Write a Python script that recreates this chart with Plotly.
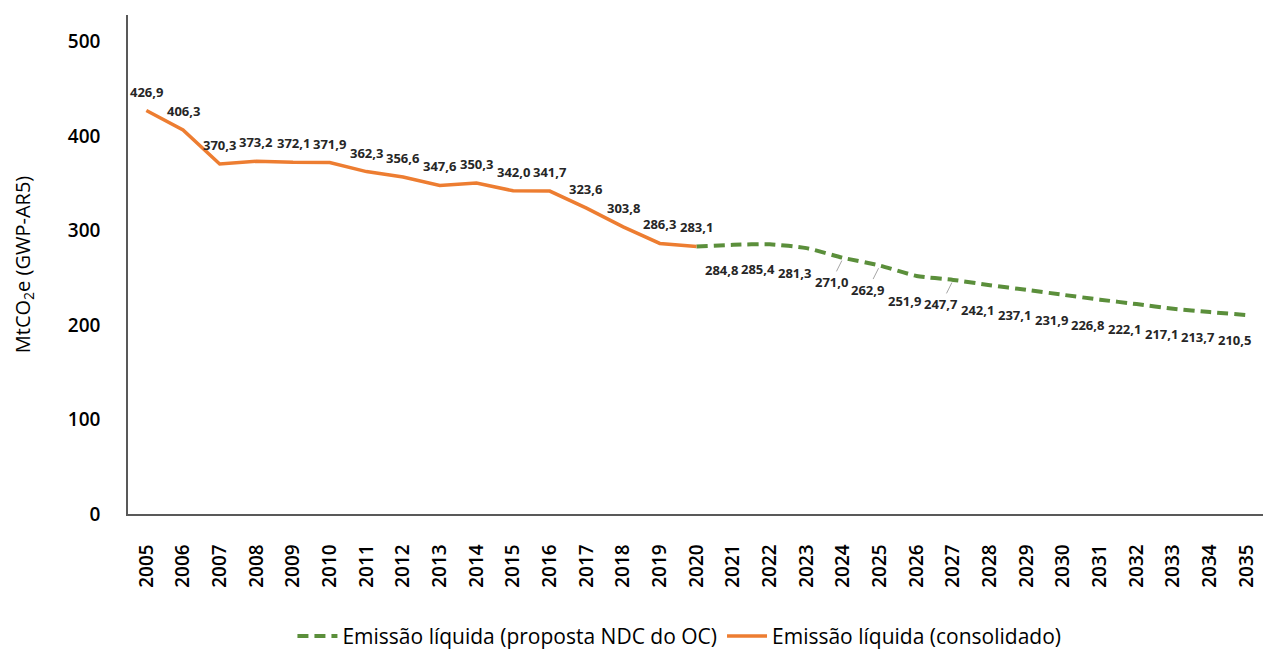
import plotly.graph_objects as go

anos_consolidado = [str(a) for a in range(2005, 2021)]
emissao_consolidado = [426.9, 406.3, 370.3, 373.2, 372.1, 371.9, 362.3, 356.6,
                       347.6, 350.3, 342.0, 341.7, 323.6, 303.8, 286.3, 283.1]

anos_ndc = [str(a) for a in range(2020, 2036)]
emissao_ndc = [283.1, 284.8, 285.4, 281.3, 271.0, 262.9, 251.9, 247.7, 242.1,
               237.1, 231.9, 226.8, 222.1, 217.1, 213.7, 210.5]

todos_anos = [str(a) for a in range(2005, 2036)]

# anos em que o rótulo tem linha de chamada
anos_com_chamada = ["2024", "2025", "2027"]

VERDE = "#5b8f3b"
LARANJA = "#ed7d31"


def fmt(v):
    return f"{v:.1f}".replace(".", ",")


fig = go.Figure()

fig.add_trace(
    go.Scatter(
        x=anos_ndc,
        y=emissao_ndc,
        mode="lines",
        line=dict(color=VERDE, width=4, dash="11px,6px", shape="spline", smoothing=0.6),
        name="Emissão líquida (proposta NDC do OC)",
    )
)

fig.add_trace(
    go.Scatter(
        x=anos_consolidado,
        y=emissao_consolidado,
        mode="lines",
        line=dict(color=LARANJA, width=3.5),
        name="Emissão líquida (consolidado)",
    )
)

rotulo_fonte = dict(family="Open Sans", size=13, color="#262626")

# em eixo categórico os anos "2005" etc. seriam lidos como números,
# então as anotações usam o índice da categoria
for ano, valor in zip(anos_consolidado, emissao_consolidado):
    fig.add_annotation(
        x=todos_anos.index(ano), y=valor, text="<b>" + fmt(valor) + "</b>",
        showarrow=False, xref="x", yref="y", yshift=19, font=rotulo_fonte,
    )

for ano, valor in zip(anos_ndc[1:], emissao_ndc[1:]):
    if ano in anos_com_chamada:
        fig.add_annotation(
            x=todos_anos.index(ano), y=valor, text="<b>" + fmt(valor) + "</b>",
            showarrow=True, xref="x", yref="y",
            arrowhead=0, arrowwidth=1, arrowcolor="#a6a6a6", standoff=3,
            ax=-12, ay=24, font=rotulo_fonte,
        )
    else:
        fig.add_annotation(
            x=todos_anos.index(ano), y=valor, text="<b>" + fmt(valor) + "</b>",
            showarrow=False, xref="x", yref="y",
            xshift=-12, yshift=-25, font=rotulo_fonte,
        )

fig.update_layout(
    width=1271,
    height=650,
    margin=dict(l=120, r=14, t=7, b=144, autoexpand=False),
    paper_bgcolor="white",
    plot_bgcolor="white",
    font=dict(family="Open Sans", color="#000000"),
    showlegend=True,
    legend=dict(
        orientation="h",
        x=0.485, xanchor="center",
        y=-0.245, yanchor="middle",
        font=dict(family="Open Sans", size=21, color="#000000"),
        itemwidth=40,
    ),
)

fig.update_xaxes(
    type="category",
    categoryorder="array",
    categoryarray=todos_anos,
    range=[-0.5, 30.5],
    tickangle=-90,
    tickfont=dict(family="Open Sans", size=19, weight=600, color="#000000"),
    showline=True,
    linecolor="#595959",
    linewidth=1.5,
    showgrid=False,
    ticks="",
    automargin=False,
    ticklabelstandoff=21,
)

fig.update_yaxes(
    range=[0, 528],
    tickvals=[0, 100, 200, 300, 400, 500],
    tickfont=dict(family="Open Sans", size=19, weight=600, color="#000000"),
    title=dict(
        text="MtCO<sub>2</sub>e (GWP-AR5)",
        font=dict(family="Open Sans", size=20, color="#000000"),
        standoff=32,
    ),
    showline=True,
    linecolor="#595959",
    linewidth=1.5,
    showgrid=False,
    zeroline=False,
    ticks="",
    ticklabelstandoff=22,
    automargin=False,
)

fig.write_html("out.html")
